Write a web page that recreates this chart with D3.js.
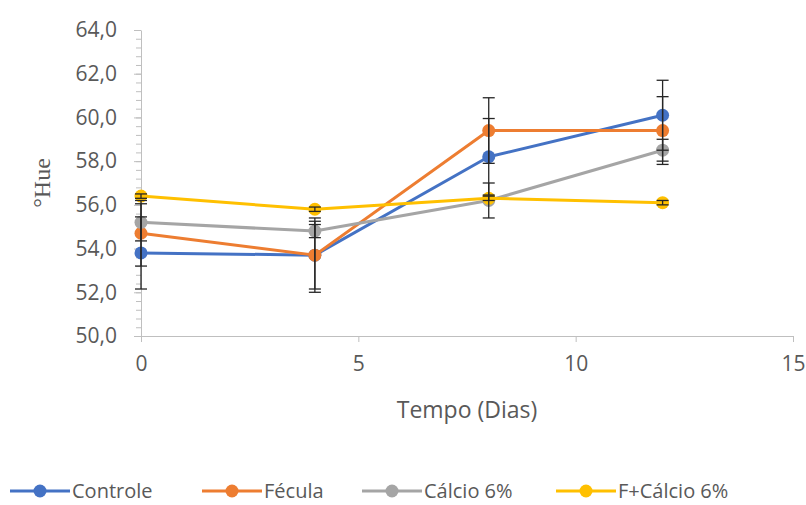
<!DOCTYPE html>
<html>
<head>
<meta charset="utf-8">
<script src="https://cdn.jsdelivr.net/npm/d3@7"></script>
<style>
  body { margin: 0; background: #fff; }
  text { font-family: "Open Sans", "Liberation Sans", sans-serif; fill: #595959; }
</style>
</head>
<body>
<div id="chart"></div>
<script>
// data
const dias = [0, 4, 8, 12]
const seriesNames = ["Controle", "Fécula", "Cálcio 6%", "F+Cálcio 6%"]
const controle = [53.8, 53.7, 58.2, 60.1]
const fecula = [54.7, 53.7, 59.4, 59.4]
const calcio = [55.2, 54.8, 56.2, 58.5]
const fCalcio = [56.4, 55.8, 56.3, 56.1]
// error (+/-) of each point
const controleErr = [1.65, 1.55, 1.75, 1.6]
const feculaErr = [1.5, 1.7, 1.5, 1.55]
const calcioErr = [0.85, 0.3, 0.8, 0.5]
const fCalcioErr = [0.1, 0.1, 0.1, 0.1]
const xTicks = [0, 5, 10, 15]
const yTicks = [50, 52, 54, 56, 58, 60, 62, 64]

const colors = ["#4472C4", "#ED7D31", "#A5A5A5", "#FFC000"]

// setup the dimensions
const margin = { top: 30, right: 13, bottom: 169, left: 141 }
const width = 806 - margin.left - margin.right
const height = 505 - margin.top - margin.bottom

const svg = d3.select("#chart")
  .append("svg")
    .attr("width", 806)
    .attr("height", 505)

const g = svg.append("g")
    .attr("transform", "translate(" + margin.left + "," + margin.top + ")")

const x = d3.scaleLinear().domain([0, 15]).range([0, width])
const y = d3.scaleLinear().domain([50, 64]).range([height, 0])

// minor ticks on the y axis
const minorTicks = d3.range(50, 64.001, 0.4)
g.append("g")
  .call(d3.axisLeft(y).tickValues(minorTicks).tickSize(5).tickFormat(""))
  .call(a => a.select(".domain").remove())
  .selectAll("line").attr("stroke", "#bfbfbf")

// y axis
const yAxis = g.append("g")
  .call(d3.axisLeft(y)
    .tickValues(yTicks)
    .tickSize(7)
    .tickSizeOuter(0)
    .tickPadding(17)
    .tickFormat(d => d3.format(".1f")(d).replace(".", ",")))
yAxis.select(".domain").attr("stroke", "#bfbfbf")
yAxis.selectAll("line").attr("stroke", "#bfbfbf")
yAxis.selectAll("text").style("font-size", "21px").attr("fill", "#595959")

// x axis
const xAxis = g.append("g")
  .attr("transform", `translate(0,${height})`)
  .call(d3.axisBottom(x)
    .tickValues(xTicks)
    .tickSize(6)
    .tickSizeOuter(0)
    .tickPadding(14))
xAxis.select(".domain").attr("stroke", "#bfbfbf")
xAxis.selectAll("line").attr("stroke", "#bfbfbf")
xAxis.selectAll("text").style("font-size", "21px").attr("fill", "#595959")

// axis titles
svg.append("text")
  .attr("x", margin.left + width / 2)
  .attr("y", 418)
  .attr("text-anchor", "middle")
  .style("font-size", "23px")
  .text("Tempo (Dias)")

svg.append("text")
  .attr("transform", `translate(50,${margin.top + height / 2}) rotate(-90)`)
  .attr("text-anchor", "middle")
  .style("font-family", "'Liberation Serif', serif")
  .style("font-size", "24px")
  .text("°Hue")

const allValues = [controle, fecula, calcio, fCalcio]
const allErr = [controleErr, feculaErr, calcioErr, fCalcioErr]

const series = seriesNames.map((name, i) => ({
  name: name,
  color: colors[i],
  points: dias.map((d, j) => ({ dia: d, val: allValues[i][j], err: allErr[i][j] }))
}))

const line = d3.line()
  .x(d => x(d.dia))
  .y(d => y(d.val))

// lines and markers
series.forEach(s => {
  g.append("path")
    .datum(s.points)
    .attr("fill", "none")
    .attr("stroke", s.color)
    .attr("stroke-width", 3)
    .attr("stroke-linejoin", "round")
    .attr("d", line)

  g.selectAll(null)
    .data(s.points)
    .enter().append("circle")
      .attr("cx", d => x(d.dia))
      .attr("cy", d => y(d.val))
      .attr("r", 6.5)
      .attr("fill", s.color)
})

// error bars
series.forEach(s => {
  const eb = g.append("g").attr("stroke", "#262626").attr("stroke-width", 1.3)
  s.points.forEach(p => {
    const cx = x(p.dia)
    eb.append("line")
      .attr("x1", cx).attr("x2", cx)
      .attr("y1", y(p.val - p.err)).attr("y2", y(p.val + p.err))
    ;[p.val - p.err, p.val + p.err].forEach(v => {
      eb.append("line")
        .attr("x1", cx - 6).attr("x2", cx + 6)
        .attr("y1", y(v)).attr("y2", y(v))
    })
  })
})

// legend
const legendX = [10, 202, 362, 556]
const legend = svg.append("g").attr("transform", "translate(0,491)")
series.forEach((s, i) => {
  const lg = legend.append("g").attr("transform", `translate(${legendX[i]},0)`)
  lg.append("line")
    .attr("x1", 0).attr("x2", 60)
    .attr("stroke", s.color)
    .attr("stroke-width", 3)
  lg.append("circle")
    .attr("cx", 30).attr("r", 6.5)
    .attr("fill", s.color)
  lg.append("text")
    .attr("x", 62)
    .attr("dy", "0.35em")
    .style("font-size", "20px")
    .text(s.name)
})
</script>
</body>
</html>
